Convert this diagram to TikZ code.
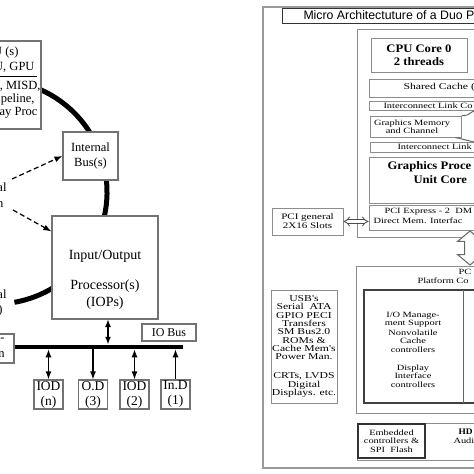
\documentclass[tikz,border=0pt]{standalone}
\usepackage{fontspec}
\setmainfont{Liberation Serif}
\newfontfamily\titlefont{Liberation Sans}
\newfontfamily\widefont[FakeStretch=1.3]{Liberation Serif}
\newfontfamily\boldwide[FakeStretch=1.1]{Liberation Serif}
\usetikzlibrary{positioning}
\usetikzlibrary{arrows.meta}
\usetikzlibrary{shapes.arrows}
\tikzset{every picture/.style={line width=1pt},>={Latex[length=8pt,width=6pt]}}
\tikzset{lbox/.style={draw=black!55,fill=white,line width=1.2pt,inner sep=0pt},
  rbox/.style={draw=black!45,fill=white,line width=1pt,inner sep=0pt},
  ltext/.style={inner sep=0pt,font=\fontsize{12.5}{15}\selectfont},
  rtext/.style={inner sep=0pt,font=\widefont\fontsize{8}{8.3}\selectfont},
  btext/.style={inner sep=0pt,font=\boldwide\bfseries\fontsize{11.5}{13}\selectfont},
  devbox/.style={lbox,minimum width=29,minimum height=29,align=center,font=\fontsize{13.5}{15}\selectfont}}

\begin{document}
\begin{tikzpicture}[x=1pt,y=-1pt]
\useasboundingbox (0,0) rectangle (474,474);
\clip (0,0) rectangle (474,474);

% left: processor ring and its boxes
\draw[line width=5pt] (-5,192) ++(-66:112) arc[start angle=-66,end angle=80,radius=112];

\node (cpu) at (10.5,85) [lbox,minimum width=61,minimum height=88] {};
\node (cpua) [ltext,anchor=east] at (19,52) {U (s)};
\node (cpub) [ltext,anchor=east] at (35,67) {U, GPU};
\draw[line width=0.8pt] (-20,76) -- (37,76);
\node (cpuc) [ltext,anchor=east] at (41,86) {, MISD,};
\node (cpud) [ltext,anchor=east] at (35,99) {peline,};
\node (cpue) [ltext,anchor=east] at (38,113) {ay Proc};

\node (intbus) at (90.5,156) [lbox,minimum width=55,minimum height=48,align=center,font=\fontsize{12.5}{15}\selectfont] {Internal\\Bus(s)};

\node (iop) at (105,267.5) [lbox,minimum width=106,minimum height=103] {};
\node (iopt) at (105,280) [inner sep=0pt,align=center,font=\fontsize{14}{17}\selectfont] {Input/Output\\[13pt]Processor(s)\\(IOPs)};

% cut texts at the left edge
\node (exta) [ltext,anchor=east] at (7,187) {al};
\node (extb) [ltext,anchor=east] at (4,205) {n};
\node (mema) [ltext,anchor=east] at (7,294) {al};
\node (memb) [ltext,anchor=east] at (3,310) {)};
\node (dev) at (-3,348.5) [lbox,minimum width=34,minimum height=29] {};
\node (deva) [ltext,anchor=east] at (5,340) {-};
\node (devb) [ltext,anchor=east] at (5,355) {n};

\coordinate (ext1) at (12,179);
\coordinate (ext2) at (13,210);
\draw[dash pattern=on 5pt off 3pt,line width=1.2pt,->] (ext1) -- (intbus.west);
\draw[dash pattern=on 5pt off 3pt,line width=1.2pt,->] (ext2) -- ([yshift=-16pt]iop.north west);

% IO bus
\node (iobus) at (169,332.5) [lbox,minimum width=54,minimum height=17,font=\fontsize{12}{14}\selectfont] {IO Bus};
\node (bus) at (99,347) [fill,inner sep=0pt,minimum width=168,minimum height=3.5] {};
\coordinate (iopport) at (108,319);
\draw[<->,line width=2pt] (iopport) -- (iopport |- bus.north);

\node (iodn) at (48.5,394.5) [devbox] {IOD\\(n)};
\node (od3) at (93,394.5) [devbox] {O.D\\(3)};
\node (iod2) at (134.5,394.5) [devbox] {IOD\\(2)};
\node (ind1) at (175.5,394.5) [devbox] {In.D\\(1)};
\draw[<->,line width=1.3pt] (iodn.north) -- (iodn.north |- bus.south);
\draw[->,line width=1.3pt] (od3.north |- bus.south) -- (od3.north);
\draw[<->,line width=1.3pt] (iod2.north) -- (iod2.north |- bus.south);
\draw[->,line width=1.3pt] (ind1.north) -- (ind1.north |- bus.south);

% right: micro architecture
\draw[draw=black!40,line width=1.5pt] (263,7) rectangle (495,468);
\node (title) at (388.5,15.5) [draw=black!80,fill=white,line width=1pt,minimum width=213,minimum height=15] {};
\node (titlet) [anchor=west,inner sep=0pt,font=\titlefont\fontsize{12.3}{13}\selectfont] at (303,15.5) {Micro Architectuture of a Duo P};

\node (proc) at (426,133) [rbox,minimum width=138,minimum height=208] {};
\node (core) at (419,55) [rbox,minimum width=96,minimum height=34,align=center,font=\boldwide\bfseries\fontsize{11.5}{13}\selectfont] {CPU Core 0\\2 threads};
\node (cache) at (432,88) [rbox,minimum width=126,minimum height=18] {};
\node (cachet) [rtext,anchor=west,font=\widefont\fontsize{9}{9}\selectfont] at (403,87) {Shared Cache (1};
\node (linka) at (432,105.5) [rbox,minimum width=126,minimum height=9] {};
\node (linkat) [rtext,anchor=west] at (383,105.5) {Interconnect Link Co};
\node (gmem) at (415.5,126.5) [rbox,minimum width=91,minimum height=21] {};
\node (gmemt) [rtext,align=center] at (412,126.5) {Graphics Memory\\and Channel};
\coordinate (gmemup) at (474,111);
\coordinate (gmemdn) at (474,142);
\draw[black!60] (gmem.north east) -- ++(3,0) to[out=0,in=200] (gmemup);
\draw[black!60] ([xshift=-6pt]gmem.south east) -- (gmemdn);
\node (linkb) at (432.5,147) [rbox,minimum width=125,minimum height=10] {};
\node (linkbt) [rtext,anchor=west] at (397,147) {Interconnect Link};
\node (gpu) at (432,180) [rbox,minimum width=126,minimum height=46] {};
\node (gpua) [btext,anchor=west] at (387,167) {Graphics Proce};
\node (gpub) [btext,anchor=west] at (413,180) {Unit Core};
\node (pcie) at (432,217.5) [rbox,minimum width=126,minimum height=25] {};
\node (pciea) [rtext,anchor=west] at (384,212) {PCI Express - 2\ \ DM};
\node (pcieb) [rtext,anchor=west] at (373,221) {Direct Mem. Interfac};
\node (pcigen) at (307.5,221.5) [rbox,minimum width=71,minimum height=27,align=center,font=\widefont\fontsize{8.5}{9}\selectfont] {PCI general\\2X16 Slots};
\draw[double=white,double distance=2.5pt,line width=0.8pt,black!70,{Implies}-{Implies}] (pcigen.east) -- (pcie.west |- pcigen.east);

\node (pch) at (425.5,339.5) [rbox,minimum width=139,minimum height=147] {};
\node (dmi) at (470,248) [double arrow,draw=black!60,fill=white,rotate=90,minimum height=34,inner sep=5pt,double arrow head extend=7pt,double arrow tip angle=100] {};
\node (pcha) [rtext,anchor=west] at (458,272) {PC};
\node (pchb) [rtext,anchor=west] at (417,281) {Platform Co};
\node (pchin) at (429.5,346.5) [draw=black!75,line width=1.2pt,minimum width=131,minimum height=113] {};
\draw[black!60] (463,290) -- (463,403);
\node (iomt) [rtext,align=center] at (413,349.5) {I/O Manage-\\ment Support\\[2pt]Nonvolatile\\Cache\\controllers\\[10pt]Display\\Interface\\controllers};
\node (usb) at (304,346.5) [rbox,minimum width=66,minimum height=113,align=center,font=\widefont\fontsize{9}{8.3}\selectfont] {USB's\\Serial\ \ ATA\\GPIO PECI\\Transfers\\SM Bus2.0\\ROMs \&\\Cache Mem's\\Power Man.\\[11pt]CRTs, LVDS\\Digital\\Displays. etc.};

\node (low) at (426,441.5) [rbox,minimum width=138,minimum height=37] {};
\node (emb) at (391.5,441) [draw=black!80,line width=1.3pt,minimum width=67,minimum height=34,inner sep=0pt,align=center,font=\widefont\fontsize{8}{8.5}\selectfont] {Embedded\\controllers \&\\SPI\ \ Flash};
\node (hda) [btext,anchor=west,font=\boldwide\bfseries\fontsize{8.5}{9}\selectfont] at (458,432) {HD};
\node (hdb) [rtext,anchor=west] at (453,441) {Audi};
\end{tikzpicture}
\end{document}
